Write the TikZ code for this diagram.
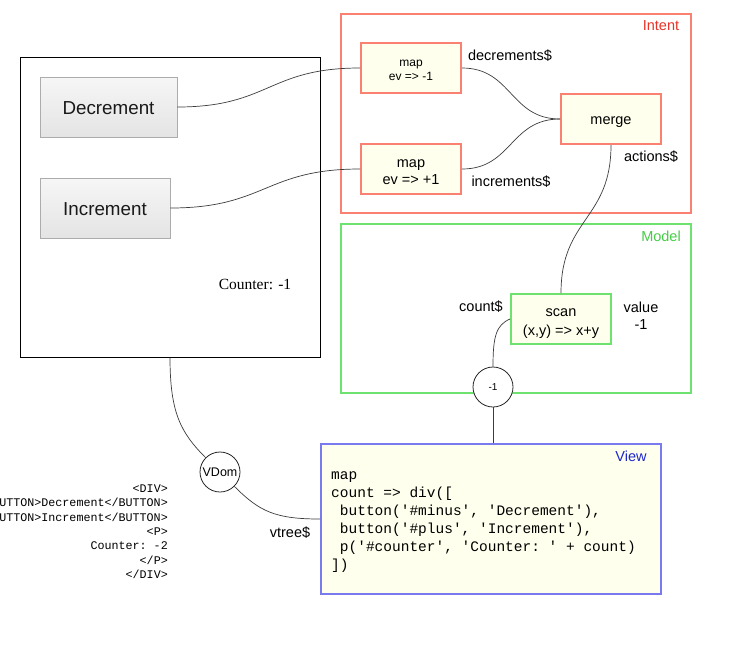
\documentclass[tikz,border=0pt]{standalone}
\usepackage{fontspec}
\setmainfont{Liberation Sans}
\setmonofont{Liberation Mono}
\newfontfamily\timesfont{Liberation Serif}
\definecolor{intentc}{RGB}{250,128,114}
\definecolor{intentt}{RGB}{232,52,40}
\definecolor{modelc}{RGB}{110,226,110}
\definecolor{modelt}{RGB}{70,205,70}
\definecolor{viewc}{RGB}{122,122,240}
\definecolor{viewt}{RGB}{30,40,205}
\definecolor{boxfill}{RGB}{255,255,238}
\definecolor{wirec}{RGB}{60,60,60}
\definecolor{btnline}{RGB}{172,172,172}
\definecolor{btntop}{RGB}{246,246,246}
\definecolor{btnbot}{RGB}{228,228,228}
\newcommand\lblfont{\fontsize{14.5}{17}\selectfont}
\begin{document}
\begin{tikzpicture}[x=1pt,y=-1pt,
  group/.style={draw, line width=2pt, inner sep=0pt},
  grouptitle/.style={font=\lblfont, inner sep=0pt},
  opbox/.style={draw, line width=2pt, fill=boxfill, inner sep=0pt,
    minimum width=100pt, minimum height=50pt},
  optext/.style={inner sep=0pt, align=center},
  btn/.style={draw=btnline, line width=0.8pt, top color=btntop, bottom color=btnbot,
    minimum height=60pt, inner sep=0pt},
  btntext/.style={inner sep=0pt, text=black!90, font=\fontsize{18.8}{21}\selectfont},
  wire/.style={draw=wirec, line width=0.7pt},
  bubble/.style={circle, draw=black!85, line width=0.8pt, minimum size=40pt, inner sep=0pt, fill=white},
  lbl/.style={font=\lblfont, inner sep=0pt},
  codeline/.style={font=\ttfamily\fontsize{14.5}{18}\selectfont, inner sep=0pt, anchor=base west},
  htmlline/.style={font=\ttfamily\fontsize{11.7}{14}\selectfont, inner sep=0pt, anchor=base east}
]
\clip (0,0) rectangle (743,665);
\fill[white] (0,0) rectangle (743,665);

% groups
\node[group, draw=intentc, minimum width=350pt, minimum height=199pt] (intent) at (516,113.5) {};
\node[grouptitle, text=intentt] (intentlbl) at (661,26) {Intent};
\node[group, draw=modelc, minimum width=350pt, minimum height=169pt] (model) at (516,308.5) {};
\node[grouptitle, text=modelt] (modellbl) at (661,236) {Model};
\node[group, draw=viewc, fill=boxfill, minimum width=340pt, minimum height=150pt] (view) at (491,519) {};
\node[grouptitle, text=viewt] (viewlbl) at (631,456) {View};

% app
\node[draw=black, line width=1pt, fill=white, minimum width=300pt, minimum height=300pt, inner sep=0pt] (app) at (170,207) {};
\node[btn, minimum width=137pt] (dec) at (108.5,107) {};
\node[btntext] (dect) at (108.5,108) {Decrement};
\node[btn, minimum width=130pt] (inc) at (105,208) {};
\node[btntext] (inct) at (105,209) {Increment};
\node[inner sep=0pt, font=\timesfont\fontsize{15.5}{18}\selectfont] (counter) at (255,284) {Counter: -1};

% operators
\node[opbox, draw=intentc] (mapdec) at (411,68) {};
\node[optext, font=\fontsize{12}{14}\selectfont] (mapdect) at (411,70.5) {map\\ev => -1};
\node[opbox, draw=intentc] (mapinc) at (411,169) {};
\node[optext, font=\fontsize{14.5}{17}\selectfont] (mapinct) at (411,172) {map\\ev => +1};
\node[opbox, draw=intentc] (merge) at (611,119) {};
\node[optext, font=\lblfont] (merget) at (611,122.5) {merge};
\node[opbox, draw=modelc] (scan) at (561,319) {};
\node[optext, font=\fontsize{14.5}{19}\selectfont] (scant) at (561,323.5) {scan\\(x,y) => x+y};

% wires
\draw[wire] (dec.east) .. controls +(92,0) and +(-92,0) .. (mapdec.west);
\draw[wire] (inc.east) .. controls +(95,0) and +(-95,0) .. (mapinc.west);
\draw[wire] (mapdec.east) .. controls +(50,0) and +(-50,0) .. (merge.west);
\draw[wire] (mapinc.east) .. controls +(50,0) and +(-50,0) .. (merge.west);
\draw[wire] (merge.south) .. controls +(0,75) and +(0,-75) .. (scan.north);

\node[bubble, font=\fontsize{10}{12}\selectfont] (cnt) at (493,387) {-1};
\node[bubble, font=\fontsize{12.5}{14}\selectfont] (vdom) at (220,472) {VDom};

\draw[wire] (scan.west) .. controls +(-14,6) and +(0,-30) .. (cnt.north);
\draw[wire] (cnt.south) -- (cnt.south |- view.north);
\draw[wire] (app.south) .. controls +(0,55) and +(-25,-25) .. (vdom.north west);
\draw[wire] (vdom.south east) .. controls +(25,25) and +(-45,0) .. (view.west);

% labels
\node[lbl] (ldec) at (510,56) {decrements\$};
\node[lbl] (linc) at (511,182) {increments\$};
\node[lbl] (lact) at (651,157) {actions\$};
\node[lbl] (lcount) at (481,307) {count\$};
\node[lbl, align=center] (lvalue) at (641,316) {value\\-1};
\node[lbl] (lvtree) at (290,533) {vtree\$};

% view code
\node[codeline] (c1) at (331,479.5) {map};
\node[codeline] (c2) at (331,497.5) {count => div([};
\node[codeline] (c3) at (331,515.5) {\ button('\#minus', 'Decrement'),};
\node[codeline] (c4) at (331,533.5) {\ button('\#plus', 'Increment'),};
\node[codeline] (c5) at (331,551.5) {\ p('\#counter', 'Counter: ' + count)};
\node[codeline] (c6) at (331,569.5) {])};

% vdom html
\node[htmlline] (h1) at (168,492.5) {<DIV>};
\node[htmlline] (h2) at (168,506.8) {UTTON>Decrement</BUTTON>};
\node[htmlline] (h3) at (168,521.1) {UTTON>Increment</BUTTON>};
\node[htmlline] (h4) at (168,535.4) {<P>};
\node[htmlline] (h5) at (168,549.7) {Counter: -2};
\node[htmlline] (h6) at (168,564) {</P>};
\node[htmlline] (h7) at (168,578.3) {</DIV>};
\end{tikzpicture}
\end{document}
